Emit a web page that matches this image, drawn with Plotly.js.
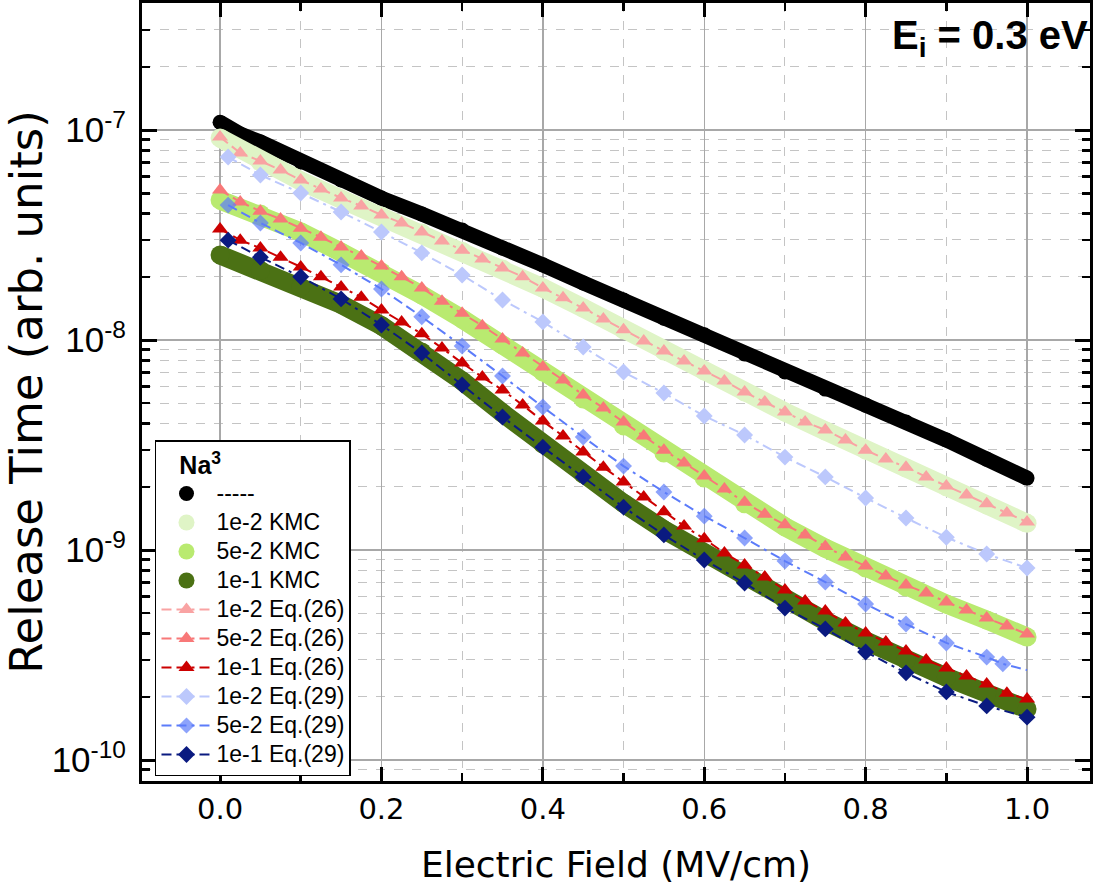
<!DOCTYPE html>
<html><head><meta charset="utf-8">
<script src="https://cdn.plot.ly/plotly-3.0.1.min.js"></script>
<style>html,body{margin:0;padding:0;background:#fff;overflow:hidden}#chart{width:1110px;height:895px}</style>
</head><body><div id="chart"></div>
<script>
// ---------- data ----------
const xBlack = [0,0.01,0.025,0.05,0.1,0.15,0.2,0.25,0.3,0.35,0.4,0.45,0.5,0.55,0.6,0.65,0.7,0.75,0.8,0.85,0.9,0.95,1.0];
const yBlack = [1.09e-7,1.02e-7,9.57e-8,8.77e-8,7.04e-8,5.78e-8,4.74e-8,3.98e-8,3.34e-8,2.74e-8,2.28e-8,1.87e-8,1.55e-8,1.27e-8,1.06e-8,8.58e-9,7.04e-9,5.84e-9,4.90e-9,4.07e-9,3.34e-9,2.71e-9,2.20e-9];

const xKMC = [0,0.05,0.1,0.15,0.2,0.25,0.3,0.35,0.4,0.45,0.5,0.55,0.6,0.65,0.7,0.75,0.8,0.85,0.9,0.95,1.0];
const yKMC_1e2 = [9.16e-8,7.04e-8,5.72e-8,4.69e-8,3.90e-8,3.23e-8,2.65e-8,2.18e-8,1.77e-8,1.42e-8,1.12e-8,8.86e-9,7.12e-9,5.65e-9,4.54e-9,3.69e-9,2.99e-9,2.46e-9,2.00e-9,1.64e-9,1.34e-9];
const yKMC_5e2 = [4.64e-8,3.98e-8,3.27e-8,2.62e-8,2.11e-8,1.64e-8,1.26e-8,9.47e-9,7.04e-9,5.24e-9,3.90e-9,2.90e-9,2.20e-9,1.66e-9,1.29e-9,1.02e-9,8.21e-10,6.66e-10,5.53e-10,4.64e-10,3.85e-10];
const yKMC_1e1 = [2.54e-8,2.15e-8,1.79e-8,1.48e-8,1.17e-8,8.77e-9,6.38e-9,4.49e-9,3.20e-9,2.30e-9,1.67e-9,1.25e-9,9.68e-10,7.36e-10,5.78e-10,4.59e-10,3.69e-10,2.99e-10,2.48e-10,2.08e-10,1.75e-10];

const xEq26 = [0,0.025,0.05,0.075,0.1,0.125,0.15,0.175,0.2,0.225,0.25,0.275,0.3,0.325,0.35,0.375,0.4,0.425,0.45,0.475,0.5,0.525,0.55,0.575,0.6,0.625,0.65,0.675,0.7,0.725,0.75,0.775,0.8,0.825,0.85,0.875,0.9,0.925,0.95,0.975,1.0];
const yEq26_1e2 = [9.26e-8,7.77e-8,7.12e-8,6.45e-8,5.78e-8,5.24e-8,4.75e-8,4.35e-8,3.94e-8,3.61e-8,3.27e-8,2.96e-8,2.68e-8,2.43e-8,2.20e-8,2.00e-8,1.77e-8,1.59e-8,1.42e-8,1.26e-8,1.12e-8,9.89e-9,8.86e-9,7.94e-9,7.12e-9,6.38e-9,5.65e-9,5.07e-9,4.54e-9,4.07e-9,3.73e-9,3.34e-9,2.99e-9,2.71e-9,2.48e-9,2.23e-9,2.02e-9,1.83e-9,1.66e-9,1.50e-9,1.36e-9];
const yEq26_5e2 = [5.18e-8,4.54e-8,4.11e-8,3.77e-8,3.41e-8,3.09e-8,2.77e-8,2.51e-8,2.25e-8,2.00e-8,1.77e-8,1.53e-8,1.34e-8,1.17e-8,1.01e-8,8.67e-9,7.44e-9,6.45e-9,5.47e-9,4.75e-9,4.07e-9,3.49e-9,2.99e-9,2.60e-9,2.25e-9,1.95e-9,1.69e-9,1.48e-9,1.32e-9,1.18e-9,1.04e-9,9.26e-10,8.39e-10,7.52e-10,6.81e-10,6.24e-10,5.65e-10,5.18e-10,4.75e-10,4.35e-10,3.98e-10];
const yEq26_1e1 = [3.38e-8,2.99e-8,2.74e-8,2.48e-8,2.23e-8,2.00e-8,1.79e-8,1.60e-8,1.39e-8,1.22e-8,1.07e-8,9.16e-9,7.77e-9,6.66e-9,5.78e-9,4.90e-9,4.11e-9,3.49e-9,2.93e-9,2.48e-9,2.11e-9,1.79e-9,1.52e-9,1.30e-9,1.13e-9,9.68e-10,8.48e-10,7.44e-10,6.45e-10,5.72e-10,5.12e-10,4.49e-10,4.03e-10,3.65e-10,3.30e-10,2.99e-10,2.74e-10,2.51e-10,2.30e-10,2.08e-10,1.95e-10];

const xEq29 = [0.01,0.05,0.1,0.15,0.2,0.25,0.3,0.35,0.4,0.45,0.5,0.55,0.6,0.65,0.7,0.75,0.8,0.85,0.9,0.95,1.0];
const yEq29_1e2 = [7.44e-8,6.11e-8,5.01e-8,4.07e-8,3.27e-8,2.60e-8,2.04e-8,1.55e-8,1.22e-8,9.26e-9,7.04e-9,5.59e-9,4.35e-9,3.53e-9,2.77e-9,2.23e-9,1.77e-9,1.42e-9,1.15e-9,9.57e-10,8.21e-10];
const xEq29_5e2 = [0.01,0.05,0.1,0.15,0.2,0.25,0.3,0.35,0.4,0.45,0.5,0.55,0.6,0.65,0.7,0.75,0.8,0.85,0.9,0.95,0.97,1.0];
const yEq29_5e2 = [4.39e-8,3.61e-8,2.90e-8,2.28e-8,1.75e-8,1.29e-8,9.36e-9,6.74e-9,4.80e-9,3.45e-9,2.51e-9,1.89e-9,1.45e-9,1.14e-9,8.86e-10,7.04e-10,5.53e-10,4.44e-10,3.61e-10,3.09e-10,2.87e-10,2.68e-10];
const yEq29_1e1 = [2.99e-8,2.48e-8,2.00e-8,1.57e-8,1.18e-8,8.67e-9,6.11e-9,4.30e-9,3.09e-9,2.23e-9,1.60e-9,1.18e-9,8.96e-10,6.96e-10,5.29e-10,4.21e-10,3.27e-10,2.60e-10,2.11e-10,1.81e-10,1.60e-10];

const seriesNames = ['-----','1e-2 KMC','5e-2 KMC','1e-1 KMC','1e-2 Eq.(26)','5e-2 Eq.(26)','1e-1 Eq.(26)','1e-2 Eq.(29)','5e-2 Eq.(29)','1e-1 Eq.(29)'];
const legendTitle = 'Na<sup>3</sup>';
const xTickVals = [0,0.2,0.4,0.6,0.8,1.0];
const xTickText = ['0.0','0.2','0.4','0.6','0.8','1.0'];
const yTickVals = [1e-10,1e-9,1e-8,1e-7];
const yTickText = ['10<sup>-10</sup>','10<sup>-9</sup>','10<sup>-8</sup>','10<sup>-7</sup>'];

// ---------- styles ----------
const C = {
  black:'#000000', k1:'#dff4c6', k2:'#b9ea70', k3:'#4b7114',
  a1:'#f9a3a3', a2:'#f87878', a3:'#cc0000',
  b1:'#bcc8fc', b2:'#5c7cfa', b3:'#0a1a80'
};
const DASH = '10px,5px,10px,5px,3px,5px';
const big = s => '<span style="font-size:23px">' + s + '</span>';

function band(x, y, color, w, name){
  return [
    {x:x, y:y, mode:'lines', line:{color:color, width:w}, showlegend:false, hoverinfo:'skip'},
    {x:x, y:y, mode:'markers', name:big(name), marker:{color:color, size:w, line:{width:0}}}
  ];
}
function eq(x, y, color, sym, size, name){
  return {x:x, y:y, mode:'lines+markers', name:big(name),
    line:{color:color, width:2, dash:DASH},
    marker:{symbol:sym, color:color, size:size, line:{width:0}}};
}

const traces = [].concat(
  band(xBlack, yBlack, C.black, 15, seriesNames[0]),
  band(xKMC, yKMC_1e2, C.k1, 19, seriesNames[1]),
  band(xKMC, yKMC_5e2, C.k2, 19, seriesNames[2]),
  band(xKMC, yKMC_1e1, C.k3, 19, seriesNames[3]),
  [eq(xEq26, yEq26_1e2, C.a1, 'triangle-up', 14, seriesNames[4]),
   eq(xEq26, yEq26_5e2, C.a2, 'triangle-up', 14, seriesNames[5]),
   eq(xEq26, yEq26_1e1, C.a3, 'triangle-up', 14, seriesNames[6]),
   eq(xEq29, yEq29_1e2, C.b1, 'diamond', 13, seriesNames[7]),
   eq(xEq29_5e2, yEq29_5e2, C.b2, 'diamond', 13, seriesNames[8]),
   eq(xEq29, yEq29_1e1, C.b3, 'diamond', 13, seriesNames[9])]
);
// last point of 5e-2 Eq.(29) has no symbol in the reference
traces[traces.length-2].marker.size = xEq29_5e2.map((v,i,a)=> i===a.length-1 ? 0 : 13);

const yMinor = [];
for (let e=-11; e<=-7; e++) for (let d=2; d<=9; d++) yMinor.push(d*Math.pow(10,e));

const layout = {
  width:1110, height:895,
  margin:{l:142, r:20, t:3, b:114},
  paper_bgcolor:'#fff', plot_bgcolor:'#fff',
  font:{family:'Liberation Sans, Arial, sans-serif', color:'#000'},
  showlegend:true,
  xaxis:{
    range:[-0.0967,1.078], tickmode:'array', tickvals:xTickVals, ticktext:xTickText,
    ticks:'inside', ticklen:14, tickwidth:3, tickcolor:'#000',
    showline:true, linewidth:3, linecolor:'#000', mirror:'ticks',
    showgrid:true, gridcolor:'#a8a8a8', gridwidth:1.5, zeroline:false,
    tickfont:{family:'DejaVu Sans', size:29, color:'#000'}, ticklabelstandoff:0,
    title:{text:'Electric Field (MV/cm)', font:{family:'DejaVu Sans', size:36, color:'#000'}, standoff:28},
    minor:{tickmode:'linear', tick0:0, dtick:0.1, ticks:'inside', ticklen:8, tickwidth:2.5, tickcolor:'#000',
      showgrid:true, gridcolor:'#c4c4c4', gridwidth:1, griddash:'dash'}
  },
  yaxis:{
    type:'log', range:[-10.1,-6.395], tickmode:'array', tickvals:yTickVals, ticktext:yTickText,
    ticks:'inside', ticklen:15, tickwidth:3, tickcolor:'#000',
    showline:true, linewidth:3, linecolor:'#000', mirror:'ticks',
    showgrid:true, gridcolor:'#a8a8a8', gridwidth:1.5, zeroline:false,
    tickfont:{family:'Liberation Sans, Arial', size:35, color:'#000'}, ticklabelstandoff:6,
    title:{text:'Release Time (arb. units)', font:{family:'DejaVu Sans', size:45, color:'#000'}, standoff:22},
    minor:{tickmode:'array', tickvals:yMinor, ticks:'inside', ticklen:8, tickwidth:2.5, tickcolor:'#000',
      showgrid:true, gridcolor:'#c4c4c4', gridwidth:1, griddash:'dash'}
  },
  legend:{
    x:0.0137, y:0.4383, xanchor:'left', yanchor:'top',
    bgcolor:'#fff', bordercolor:'#000', borderwidth:1.5,
    font:{family:'Liberation Sans, Arial', size:20, color:'#000'},
    title:{text:'&nbsp;&nbsp;&nbsp;<b>' + legendTitle + '</b>',
      font:{family:'Liberation Sans, Arial', size:25, color:'#000'}},
    itemwidth:50, tracegroupgap:0, traceorder:'normal'
  },
  annotations:[{
    xref:'paper', yref:'paper', x:1.0, y:0.99, xanchor:'right', yanchor:'top',
    text:'<b>E<sub>i</sub> = 0.3 eV</b>', showarrow:false,
    font:{family:'Liberation Sans, Arial', size:40, color:'#000'}
  }]
};

Plotly.newPlot('chart', traces, layout, {displayModeBar:false, staticPlot:true});
</script>
</body></html>
